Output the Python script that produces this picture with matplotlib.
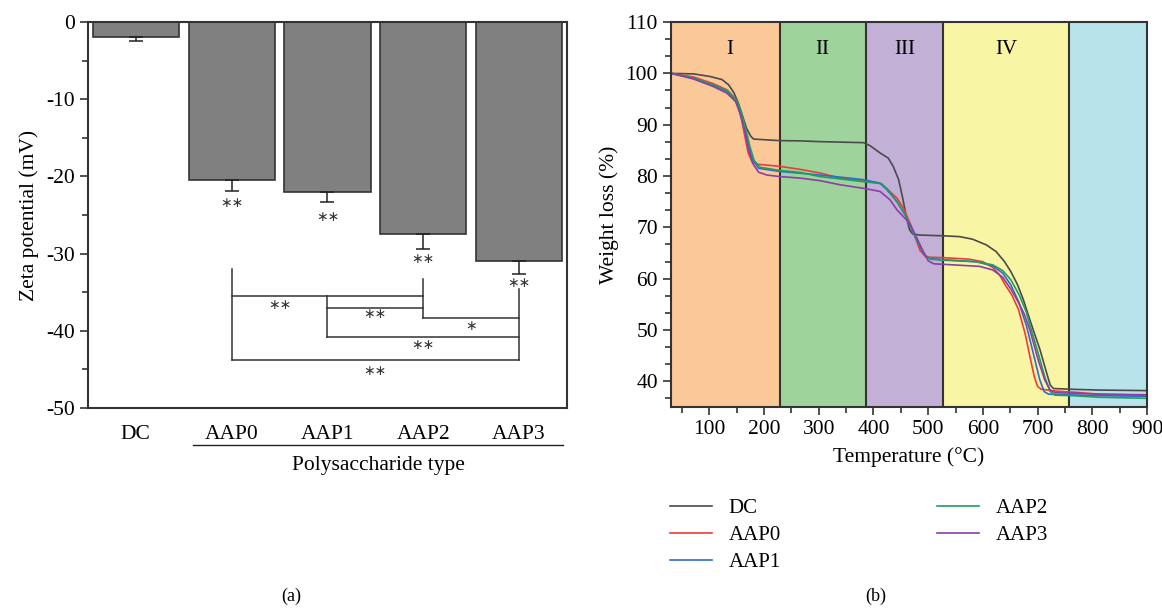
import numpy as np
import matplotlib.pyplot as plt
from matplotlib.ticker import MultipleLocator, AutoMinorLocator

plt.rcParams['font.family'] = ['Liberation Serif', 'DejaVu Serif']
plt.rcParams['axes.unicode_minus'] = False

# %% data - panel (a) zeta potential
groups = ['DC', 'AAP0', 'AAP1', 'AAP2', 'AAP3']
zeta = [-1.9, -20.5, -22.05, -27.4, -30.95]
zeta_err = [0.6, 1.35, 1.3, 2.05, 1.65]
bar_stars = ['', '**', '**', '**', '**']
star_y = [0, -23.4, -25.3, -30.65, -33.8]

# significance brackets: (x, y_top, y_bottom) verticals, (y, x0, x1) horizontals
br_vert = [(1, -32.0, -43.8), (2, -35.5, -40.8), (3, -33.3, -38.4), (4, -34.6, -43.8)]
br_horiz = [(-35.5, 1, 3), (-37.0, 2, 3), (-38.4, 3, 4), (-40.8, 2, 4), (-43.8, 1, 4)]
br_text = [(1.5, -36.7, '**'), (2.5, -37.8, '**'), (3.5, -39.4, '*'),
           (3.0, -41.8, '**'), (2.5, -45.2, '**')]

# %% data - panel (b) TGA curves
dc_t = [30, 71, 101, 123, 135, 145, 153, 161, 168, 176, 181, 228, 266, 302, 382, 394, 412, 427, 436, 446,
        454, 460, 466, 472, 485, 528, 557, 581, 606, 624, 639, 651, 663, 674, 684, 694, 704, 715, 723, 729,
        765, 813, 900]
dc_w = [100, 99.9, 99.4, 98.8, 97.8, 96.2, 94.2, 91.6, 89.3, 87.7, 87.2, 86.9, 86.85, 86.7, 86.5, 85.9, 84.5, 83.5, 81.9, 79.3,
        75.4, 72.1, 69.5, 68.7, 68.5, 68.35, 68.2, 67.7, 66.6, 65.3, 63.4, 61.4, 58.9, 55.9, 52.6, 49.4, 46.3, 42.2, 39.3, 38.6,
        38.45, 38.3, 38.2]

aap0_t = [30, 71, 107, 132, 144, 153, 159, 165, 171, 178, 187, 228, 266, 302, 339, 382, 412, 424, 443, 455,
          467, 476, 485, 496, 528, 575, 600, 618, 630, 642, 653, 665, 677, 686, 694, 700, 707, 735, 765, 813,
          900]
aap0_w = [100, 99.3, 98.0, 96.8, 95.5, 93.5, 91.0, 87.7, 84.5, 82.8, 82.3, 81.9, 81.3, 80.6, 79.6, 79.1, 78.6, 77.6, 75.7, 73.7,
          70.8, 68.2, 65.5, 64.2, 64.1, 63.8, 63.3, 62.2, 60.8, 58.6, 56.8, 54.0, 49.4, 44.8, 40.9, 39.0, 38.45, 38.1, 37.9, 37.5,
          37.4]

aap1_t = [30, 71, 107, 132, 148, 156, 164, 171, 179, 190, 228, 266, 302, 382, 412, 424, 443, 458, 470, 480,
          492, 502, 528, 588, 618, 636, 651, 665, 680, 692, 704, 712, 720, 765, 813, 900]
aap1_w = [100, 99.1, 97.65, 96.5, 94.85, 92.6, 89.6, 86.1, 83.2, 81.5, 80.9, 80.55, 80.2, 79.3, 78.6, 77.4, 75.0, 72.4, 69.5, 67.3,
          64.8, 63.9, 63.7, 63.3, 62.5, 61.1, 58.8, 55.6, 50.7, 45.5, 40.3, 38.0, 37.5, 37.35, 37.2, 37.1]

aap2_t = [30, 71, 107, 135, 151, 159, 167, 174, 182, 193, 228, 266, 302, 382, 415, 427, 445, 460, 472, 482,
          494, 505, 528, 588, 618, 636, 651, 667, 679, 690, 701, 713, 723, 732, 765, 813, 900]
aap2_w = [100, 99.1, 97.8, 96.5, 94.5, 92.25, 89.0, 85.8, 83.0, 81.7, 81.1, 80.7, 79.9, 78.9, 78.5, 77.2, 74.7, 72.1, 69.2, 67.0,
          64.6, 63.8, 63.6, 63.3, 62.7, 61.6, 59.8, 56.7, 53.6, 49.5, 45.5, 40.9, 38.0, 37.3, 37.2, 36.9, 36.7]

aap3_t = [30, 71, 107, 132, 148, 156, 164, 171, 179, 190, 205, 228, 266, 302, 339, 382, 412, 430, 443, 460,
          469, 478, 490, 500, 510, 528, 594, 618, 636, 651, 667, 676, 686, 701, 713, 723, 732, 765, 813, 900]
aap3_w = [100, 98.9, 97.45, 96.15, 94.5, 92.25, 89.0, 85.4, 82.5, 80.75, 80.2, 79.9, 79.6, 79.1, 78.3, 77.6, 77.0, 75.4, 73.4, 71.5,
          70.2, 68.2, 65.5, 63.5, 62.9, 62.8, 62.4, 61.7, 60.3, 58.0, 55.0, 53.0, 50.0, 44.2, 40.3, 38.3, 37.8, 37.7, 37.5, 37.3]

stage_edges = [30, 229, 387, 528, 758, 900]
stage_colors = ['#fbc998', '#9ed39b', '#c2b0d6', '#f8f5a5', '#b8e3ea']
stage_labels = ['I', 'II', 'III', 'IV', '']
stage_label_x = [138, 307, 458, 643]

# %% figure
fig = plt.figure(figsize=(11.62, 6.14), dpi=100)
edge = '#333333'
fs = 15.5
star_font = ['DejaVu Sans']

# ---- (a)
ax1 = fig.add_axes([0.0757, 0.3355, 0.4122, 0.6287])
x = np.arange(len(groups))
ax1.bar(x, zeta, width=0.9, color='#808080', edgecolor=edge, linewidth=1.2, zorder=2)
ax1.errorbar(x, zeta, yerr=[zeta_err, [0] * len(x)], fmt='none', ecolor='#222222',
             elinewidth=1.1, capsize=5, capthick=1.1, zorder=3)
for xi, s, sy in zip(x, bar_stars, star_y):
    if s:
        ax1.text(xi, sy, s.replace('*', '\u2217'), ha='center', va='center',
                 fontsize=10, family=star_font, color='#333333')

for bx, y0, y1 in br_vert:
    ax1.plot([bx, bx], [y0, y1], color=edge, lw=1.1)
for by, x0, x1 in br_horiz:
    ax1.plot([x0, x1], [by, by], color=edge, lw=1.1)
for tx, ty, s in br_text:
    ax1.text(tx, ty, s.replace('*', '\u2217'), ha='center', va='center',
             fontsize=10, family=star_font, color='#333333')

ax1.set_xlim(-0.5, 4.5)
ax1.set_ylim(-50, 0)
ax1.set_xticks(x)
ax1.set_xticklabels(groups, fontsize=fs)
ax1.tick_params(axis='x', length=0, pad=12)
ax1.yaxis.set_major_locator(MultipleLocator(10))
ax1.yaxis.set_minor_locator(MultipleLocator(5))
ax1.tick_params(axis='y', which='both', direction='out', labelsize=fs, width=1.2, color=edge)
ax1.tick_params(axis='y', which='major', length=6)
ax1.tick_params(axis='y', which='minor', length=4)
ax1.set_ylabel('Zeta potential (mV)', fontsize=fs, labelpad=5)
for sp in ax1.spines.values():
    sp.set_color(edge)
    sp.set_linewidth(1.5)
ax1.plot([0.219, 0.992], [-0.096, -0.096], transform=ax1.transAxes, color='#222222',
         lw=1.0, clip_on=False)
ax1.text(0.607, -0.148, 'Polysaccharide type', transform=ax1.transAxes, ha='center',
         va='center', fontsize=fs)

# ---- (b)
ax2 = fig.add_axes([0.5775, 0.3371, 0.4096, 0.627])
for i in range(len(stage_colors)):
    ax2.axvspan(stage_edges[i], stage_edges[i + 1], color=stage_colors[i], lw=0, zorder=0)
for e in stage_edges[1:-1]:
    ax2.axvline(e, color=edge, lw=1.5, zorder=1)
for lab, lx in zip(stage_labels, stage_label_x):
    ax2.text(lx, 104.6, lab, ha='center', va='center', fontsize=15)

ax2.plot(dc_t, dc_w, color='#4a4a4a', lw=1.2, label='DC', zorder=3)
ax2.plot(aap0_t, aap0_w, color='#f03a3a', lw=1.2, label='AAP0', zorder=3)
ax2.plot(aap1_t, aap1_w, color='#2f6ccd', lw=1.2, label='AAP1', zorder=3)
ax2.plot(aap2_t, aap2_w, color='#1f9e5f', lw=1.2, label='AAP2', zorder=3)
ax2.plot(aap3_t, aap3_w, color='#8a3ea8', lw=1.2, label='AAP3', zorder=3)

ax2.set_xlim(30, 900)
ax2.set_ylim(35, 110)
ax2.xaxis.set_major_locator(MultipleLocator(100))
ax2.xaxis.set_minor_locator(MultipleLocator(50))
ax2.yaxis.set_major_locator(MultipleLocator(10))
ax2.yaxis.set_minor_locator(AutoMinorLocator(3))
ax2.tick_params(which='both', direction='out', labelsize=fs, width=1.2, color=edge)
ax2.tick_params(which='major', length=6)
ax2.tick_params(which='minor', length=4)
ax2.set_xlabel('Temperature (°C)', fontsize=fs, labelpad=6)
ax2.set_ylabel('Weight loss (%)', fontsize=fs, labelpad=5)
for sp in ax2.spines.values():
    sp.set_color(edge)
    sp.set_linewidth(1.5)
    sp.set_zorder(4)

fig.legend(loc='upper left', bbox_to_anchor=(0.577, 0.188), ncol=2, frameon=False,
           fontsize=15, handlelength=2.0, handletextpad=0.8, columnspacing=7.5,
           labelspacing=0.35, borderpad=0, borderaxespad=0)

fig.text(0.2504, 0.028, '(a)', ha='center', va='center', fontsize=13)
fig.text(0.754, 0.028, '(b)', ha='center', va='center', fontsize=13)

fig.savefig('out.png', dpi=100)
